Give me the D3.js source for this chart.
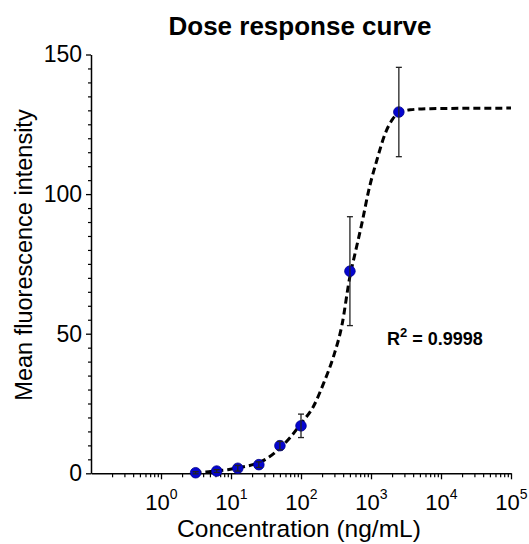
<!DOCTYPE html>
<html>
<head>
<meta charset="utf-8">
<script src="https://cdn.jsdelivr.net/npm/d3@7"></script>
<style>
    body { margin: 0; background: #fff; }
    svg { display: block; font-family: "Liberation Sans", Arial, sans-serif; }
</style>
</head>
<body>
<div id="chart"></div>
<script>
// measured points
const concentrations = [3.125, 6.25, 12.5, 25, 50, 100, 500, 2500];
const meanIntensity = [0.2, 0.8, 1.8, 3.1, 9.9, 17.0, 72.4, 129.4];
const errorSD = [0.4, 0.5, 1.0, 1.0, 1.5, 4.2, 19.5, 16.0];

// fitted curve
const fitConc = [3, 4.4, 6.25, 9, 12.5, 18, 25, 35, 50, 70, 100, 151, 210, 291, 384, 500, 595, 741, 921, 1214, 1596, 1990, 2554, 3631, 7010, 100000];
const fitIntensity = [0.2, 0.5, 0.9, 1.3, 2.0, 2.7, 3.8, 5.8, 9.0, 12.8, 17.8, 24.0, 32.2, 41.8, 53.0, 70.5, 79.0, 89.5, 101.0, 112.2, 121.7, 126.5, 129.3, 130.2, 130.6, 130.8];

const xMajorTicks = [1, 10, 100, 1000, 10000, 100000];
const yMajorTicks = [0, 50, 100, 150];

const width = 529, height = 544;

const svg = d3.select("#chart")
    .append("svg")
    .attr("width", width)
    .attr("height", height);

const x = d3.scaleLog()
    .domain([0.1, 100000])
    .range([91, 511]);

const y = d3.scaleLinear()
    .domain([0, 150])
    .range([473.3, 54.5]);

// title
svg.append("text")
    .attr("x", 300)
    .attr("y", 35)
    .attr("text-anchor", "middle")
    .attr("font-size", "26px")
    .attr("font-weight", "bold")
    .text("Dose response curve");

// minor ticks x
const xMinor = [];
for (let e = -1; e < 5; e++) {
    for (let m = 2; m <= 9; m++) xMinor.push(m * Math.pow(10, e));
}
svg.append("g")
    .attr("transform", `translate(0,${y(0)})`)
    .call(d3.axisBottom(x).tickValues(xMinor).tickSize(4).tickSizeOuter(0).tickFormat(""))
    .call(g => g.select(".domain").remove())
    .selectAll("line").attr("stroke-width", 1.2);

// minor ticks y
const yMinor = d3.range(0, 151, 5).filter(d => d % 50 != 0);
svg.append("g")
    .attr("transform", `translate(${x(0.1)},0)`)
    .call(d3.axisLeft(y).tickValues(yMinor).tickSize(3).tickSizeOuter(0).tickFormat(""))
    .call(g => g.select(".domain").remove())
    .selectAll("line").attr("stroke-width", 1.2);

// x axis
const xAxis = svg.append("g")
    .attr("transform", `translate(0,${y(0)})`)
    .call(d3.axisBottom(x).tickValues(xMajorTicks).tickSize(6).tickSizeOuter(0).tickPadding(15));

xAxis.select(".domain").attr("stroke-width", 1.5);
xAxis.selectAll(".tick line").attr("stroke-width", 1.3);
xAxis.selectAll(".tick text")
    .attr("font-size", "22px")
    .attr("fill", "#000")
    .attr("font-family", null)
    .text(null)
    .each(function(d) {
        const t = d3.select(this);
        t.append("tspan").text("10");
        t.append("tspan")
            .attr("font-size", "14px")
            .attr("dy", "-0.8em")
            .text(Math.round(Math.log10(d)));
    });

// y axis
const yAxis = svg.append("g")
    .attr("transform", `translate(${x(0.1)},0)`)
    .call(d3.axisLeft(y).tickValues(yMajorTicks).tickSize(5).tickSizeOuter(0).tickPadding(4));

yAxis.select(".domain").attr("stroke-width", 1.5);
yAxis.selectAll(".tick line").attr("stroke-width", 1.3);
yAxis.selectAll(".tick text")
    .attr("font-size", "23px")
    .attr("font-family", null)
    .attr("fill", "#000");

// axis titles
svg.append("text")
    .attr("x", 299)
    .attr("y", 537)
    .attr("text-anchor", "middle")
    .attr("font-size", "24.5px")
    .text("Concentration (ng/mL)");

svg.append("text")
    .attr("transform", "translate(32,255) rotate(-90)")
    .attr("text-anchor", "middle")
    .attr("font-size", "23.5px")
    .text("Mean fluorescence intensity");

// fitted curve
const fit = fitConc.map((c, i) => ({ c: c, v: fitIntensity[i] }));
const line = d3.line()
    .x(d => x(d.c))
    .y(d => y(d.v))
    .curve(d3.curveMonotoneX);

svg.append("path")
    .datum(fit)
    .attr("d", line)
    .attr("fill", "none")
    .attr("stroke", "#000")
    .attr("stroke-width", 3)
    .attr("stroke-dasharray", "7,4");

// points
const pts = concentrations.map((c, i) => ({ c: c, v: meanIntensity[i], e: errorSD[i] }));

svg.selectAll(".dot")
    .data(pts)
    .enter()
    .append("circle")
    .attr("class", "dot")
    .attr("cx", d => x(d.c))
    .attr("cy", d => y(d.v))
    .attr("r", 5.3)
    .attr("fill", "#0505d0")
    .attr("stroke", "#00008a")
    .attr("stroke-width", 0.8);

// error bars
const bars = svg.selectAll(".err")
    .data(pts)
    .enter()
    .append("g")
    .attr("class", "err")
    .attr("stroke", "#222")
    .attr("stroke-width", 1.3);

bars.append("line")
    .attr("x1", d => x(d.c)).attr("x2", d => x(d.c))
    .attr("y1", d => y(d.v + d.e)).attr("y2", d => y(d.v - d.e));

bars.append("line")
    .attr("x1", d => x(d.c) - 3).attr("x2", d => x(d.c) + 3)
    .attr("y1", d => y(d.v + d.e)).attr("y2", d => y(d.v + d.e));

bars.append("line")
    .attr("x1", d => x(d.c) - 3).attr("x2", d => x(d.c) + 3)
    .attr("y1", d => y(d.v - d.e)).attr("y2", d => y(d.v - d.e));

// R squared
const r2 = svg.append("text")
    .attr("x", 387)
    .attr("y", 345)
    .attr("font-size", "18px")
    .attr("font-weight", "bold");
r2.append("tspan").text("R");
r2.append("tspan").attr("font-size", "13px").attr("dy", "-0.6em").text("2");
r2.append("tspan").attr("dy", "0.45em").text(" = 0.9998");
</script>
</body>
</html>
